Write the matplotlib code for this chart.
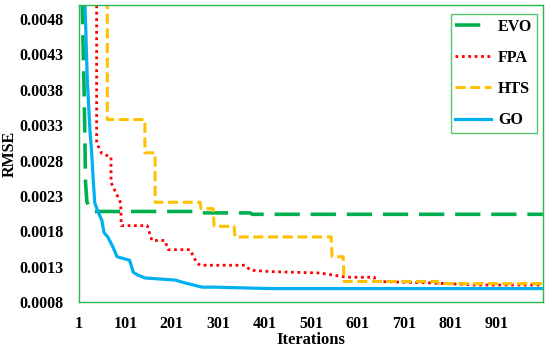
import matplotlib
matplotlib.use("Agg")
from matplotlib import pyplot as plt

# convergence curves (iteration, RMSE)
evo_it = [1, 8, 12, 14, 15, 18, 24, 30, 250, 255, 370, 374, 1000]
evo_rmse = [0.0080, 0.0050, 0.0038, 0.0030, 0.0025, 0.00222, 0.00212, 0.00208,
            0.00208, 0.00206, 0.00206, 0.00204, 0.00204]

fpa_it = [1, 39, 39, 50, 70, 70, 91, 92, 148, 158, 186, 193, 240, 255, 262, 359,
          370, 413, 520, 578, 637, 640, 757, 857, 1000]
fpa_rmse = [0.0080, 0.0055, 0.00305, 0.00290, 0.00285, 0.00249, 0.00220, 0.00188,
            0.00188, 0.00167, 0.00167, 0.00154, 0.00154, 0.00135, 0.00132, 0.00132,
            0.00125, 0.00123, 0.00121, 0.00115, 0.00115, 0.00109, 0.00107, 0.00104,
            0.00104]

hts_it = [1, 62, 62, 143, 143, 165, 165, 262, 264, 290, 292, 335, 337, 544, 546,
          570, 572, 773, 775, 1000]
hts_rmse = [0.0065, 0.0065, 0.00338, 0.00338, 0.00291, 0.00291, 0.00221, 0.00221,
            0.00212, 0.00212, 0.00187, 0.00187, 0.00172, 0.00172, 0.00144, 0.00144,
            0.00109, 0.00109, 0.00106, 0.00106]

go_it = [1, 14, 19, 25, 28, 32, 35, 43, 50, 55, 63, 74, 83, 110, 118, 128, 143,
         208, 229, 266, 290, 413, 1000]
go_rmse = [0.0090, 0.0050, 0.00393, 0.00318, 0.00295, 0.00249, 0.00220, 0.00206,
           0.00196, 0.00178, 0.00172, 0.00158, 0.00144, 0.00139, 0.00122, 0.00118,
           0.00114, 0.00111, 0.00107, 0.00101, 0.00101, 0.00099, 0.00099]

x_ticks = [1, 101, 201, 301, 401, 501, 601, 701, 801, 901]
y_ticks = [0.0008, 0.0013, 0.0018, 0.0023, 0.0028, 0.0033, 0.0038, 0.0043, 0.0048]

plt.rcParams['font.family'] = ['Liberation Serif', 'DejaVu Serif']
plt.rcParams['font.weight'] = 'bold'

frame_green = '#2db84d'

fig = plt.figure(figsize=(5.5, 3.51), dpi=100)
ax = fig.add_axes([0.1436, 0.1396, 0.8434, 0.8462])

ax.plot(evo_it, evo_rmse, color='#00b050', lw=2.6, dashes=(7, 3), label='EVO')
ax.plot(fpa_it, fpa_rmse, color='#ff0000', lw=2.0, dashes=(1, 1.3), label='FPA')
ax.plot(hts_it, hts_rmse, color='#ffc000', lw=2.2, dashes=(3.3, 1.5), label='HTS')
ax.plot(go_it, go_rmse, color='#00b0f0', lw=2.3, label='GO')

ax.set_xlim(1, 1000)
ax.set_ylim(0.0008, 0.0050)
ax.set_xticks(x_ticks)
ax.set_yticks(y_ticks)
ax.set_xticklabels([str(t) for t in x_ticks])
ax.set_yticklabels(['%.4f' % t for t in y_ticks])
ax.tick_params(length=0, labelsize=11.5)
ax.tick_params(axis='y', pad=11)
ax.tick_params(axis='x', pad=10)

for s in ax.spines.values():
    s.set_color(frame_green)
    s.set_linewidth(1.0)

ax.set_xlabel('Iterations', fontsize=12, fontweight='bold', labelpad=0)
ax.set_ylabel('RMSE', fontsize=11.5, fontweight='bold', labelpad=1)

leg = ax.legend(loc='upper right', fontsize=11.5, handlelength=2.2, handletextpad=0.45,
                labelspacing=0.95, borderpad=0.3, borderaxespad=0, fancybox=False,
                bbox_to_anchor=(0.987, 0.97))
leg.get_frame().set_edgecolor(frame_green)
leg.get_frame().set_linewidth(1.0)

fig.savefig('out.png', dpi=100)
